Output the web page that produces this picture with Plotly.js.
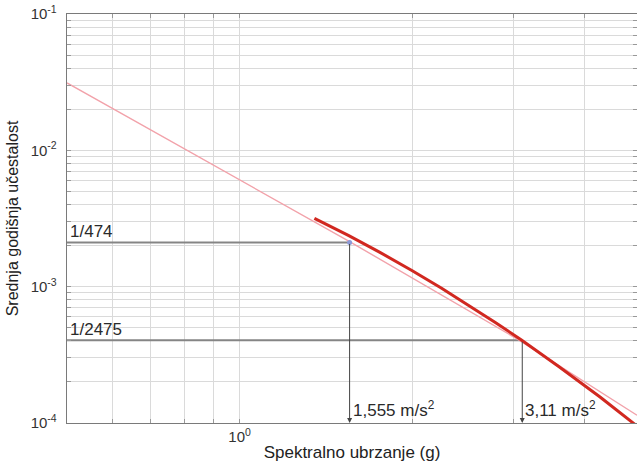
<!DOCTYPE html>
<html>
<head>
<meta charset="utf-8">
<script src="https://cdn.plot.ly/plotly-3.0.1.min.js"></script>
<style>html,body{margin:0;padding:0;background:#fff;}#chart{width:637px;height:462px;}</style>
</head>
<body>
<div id="chart"></div>
<script>
// Thin fitted line (power law)
const xThin = [0.5, 1.0, 1.555, 3.07, 4.93];
const yThin = [0.0312, 0.00605, 0.00214, 0.000406, 0.000114];
// Thick hazard curve
const xThick = [1.35, 1.55, 1.75, 2.0, 2.25, 2.5, 2.8, 3.1, 3.6, 4.25, 4.93];
const yThick = [0.00317, 0.00237, 0.00180, 0.00131, 0.000973, 0.000738, 0.000542, 0.000406, 0.000260, 0.000155, 0.000095];
// Reference levels
const levels = [1/474, 1/2475];
const levelLabels = ['1/474', '1/2475'];
const accel = [1.555, 3.11];
const accelLabels = ['1,555 m/s<sup>2</sup>', '3,11 m/s<sup>2</sup>'];
// Axis ticks
const xTickVals = [0.6, 0.7, 0.8, 0.9, 1, 2, 3, 4];
const xTickText = ['', '', '', '', '10<sup>0</sup>', '', '', ''];
const yDecades = [1e-4, 1e-3, 1e-2, 1e-1];
const yDecadeText = ['10<sup>-4</sup>', '10<sup>-3</sup>', '10<sup>-2</sup>', '10<sup>-1</sup>'];

const xMin = 0.5, xMax = 4.93, yMin = 1e-4, yMax = 1e-1;
const FONT = 'Liberation Sans, Arial, sans-serif';

const yTickVals = [], yTickText = [];
yDecades.forEach((d, i) => {
  yTickVals.push(d); yTickText.push(yDecadeText[i]);
  if (d < yMax) for (let k = 2; k <= 9; k++) { yTickVals.push(d * k); yTickText.push(''); }
});

const traces = [];
levels.forEach((lv, i) => {
  traces.push({x: [xMin, accel[i]], y: [lv, lv], mode: 'lines', type: 'scatter',
    line: {color: '#858585', width: 2}, hoverinfo: 'skip', showlegend: false});
});
traces.push({x: xThin, y: yThin, mode: 'lines', type: 'scatter',
  line: {color: '#f2a2aa', width: 1.4}, showlegend: false});
traces.push({x: xThick, y: yThick, mode: 'lines', type: 'scatter',
  line: {color: '#d12820', width: 3}, showlegend: false});
traces.push({x: [accel[0]], y: [levels[0]], mode: 'markers', type: 'scatter',
  marker: {color: '#8c9ad8', size: 5}, showlegend: false});

const annotations = [];
levels.forEach((lv, i) => {
  annotations.push({x: Math.log10(accel[i]), y: Math.log10(yMin), ax: Math.log10(accel[i]), ay: Math.log10(lv),
    xref: 'x', yref: 'y', axref: 'x', ayref: 'y', text: '', showarrow: true,
    arrowhead: 2, arrowsize: 1, arrowwidth: 1, arrowcolor: '#444'});
  annotations.push({x: Math.log10(xMin), y: Math.log10(lv), xref: 'x', yref: 'y', text: levelLabels[i],
    showarrow: false, xanchor: 'left', yanchor: 'bottom', xshift: 1, yshift: -1,
    font: {family: FONT, size: 17, color: '#2a2a2a'}});
  annotations.push({x: Math.log10(accel[i]), y: Math.log10(yMin), xref: 'x', yref: 'y', text: accelLabels[i],
    showarrow: false, xanchor: 'left', yanchor: 'bottom', xshift: 1, yshift: 1,
    font: {family: FONT, size: 17, color: '#2a2a2a'}});
});

const layout = {
  width: 637, height: 462,
  margin: {l: 67, r: 0, t: 14, b: 39},
  paper_bgcolor: '#fff', plot_bgcolor: '#fff',
  font: {family: FONT, size: 14, color: '#333'},
  showlegend: false,
  xaxis: {type: 'log', range: [Math.log10(xMin), Math.log10(xMax)],
    tickmode: 'array', tickvals: xTickVals, ticktext: xTickText,
    showgrid: true, gridcolor: '#dadada', gridwidth: 1,
    showline: true, linecolor: '#7a7a7a', linewidth: 1.3, mirror: 'ticks',
    ticks: 'inside', ticklen: 4, tickcolor: '#999', zeroline: false,
    tickfont: {size: 15, color: '#333'},
    title: {text: 'Spektralno ubrzanje (g)', font: {size: 17, color: '#222'}, standoff: 2}},
  yaxis: {type: 'log', range: [Math.log10(yMin), Math.log10(yMax)],
    tickmode: 'array', tickvals: yTickVals, ticktext: yTickText,
    showgrid: true, gridcolor: '#dadada', gridwidth: 1,
    showline: true, linecolor: '#7a7a7a', linewidth: 1.3, mirror: 'ticks',
    ticks: 'inside', ticklen: 4, tickcolor: '#999', zeroline: false,
    ticklabelstandoff: 6,
    tickfont: {size: 15, color: '#333'},
    title: {text: 'Srednja godišnja učestalost', font: {size: 16, color: '#222'}, standoff: 8}},
  annotations: annotations
};

Plotly.newPlot('chart', traces, layout, {displayModeBar: false, staticPlot: true});
</script>
</body>
</html>
